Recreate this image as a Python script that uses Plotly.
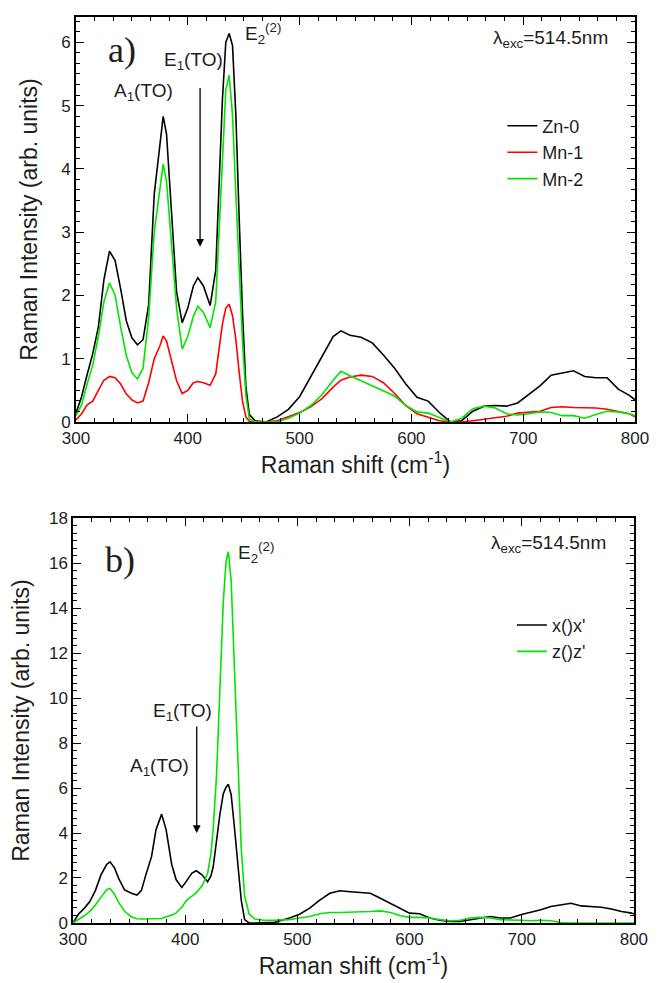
import plotly.graph_objects as go

# ---------------- data: panel a) ----------------
x_top = [300, 305, 310, 315, 320, 325, 330, 335, 340, 345, 350, 355, 360, 365, 370, 375,
         378, 381, 385, 390, 395, 400, 405, 409, 414, 420,
         425, 428, 431, 434, 437, 440, 443, 446, 449, 452, 455, 460,
         470, 480, 490, 500, 510, 520, 530,
         537, 545, 555, 565, 575, 585, 595, 605, 615, 625, 635, 645, 655, 665, 675, 685,
         695, 705, 715, 725, 735, 745, 755, 765, 775, 785, 795, 800]

zn0_top = [0.14, 0.40, 0.75, 1.08, 1.50, 2.25, 2.70, 2.55, 2.10, 1.60, 1.33, 1.22, 1.30, 1.85, 3.60, 4.40,
           4.83, 4.55, 3.50, 2.05, 1.57, 1.80, 2.15, 2.28, 2.15, 1.84,
           2.40, 3.80, 5.10, 6.00, 6.14, 5.95, 4.85, 3.20, 1.70, 0.55, 0.12, 0.02,
           0.0, 0.08, 0.20, 0.40, 0.72, 1.05, 1.35,
           1.44, 1.37, 1.34, 1.25, 1.06, 0.85, 0.60, 0.39, 0.33, 0.15, 0.0, 0.02, 0.17, 0.25, 0.26, 0.25,
           0.30, 0.44, 0.57, 0.74, 0.78, 0.81, 0.72, 0.70, 0.70, 0.52, 0.42, 0.35]

mn1_top = [0.03, 0.13, 0.27, 0.33, 0.50, 0.66, 0.72, 0.70, 0.60, 0.44, 0.35, 0.30, 0.33, 0.62, 1.00, 1.20,
           1.36, 1.28, 1.00, 0.65, 0.45, 0.50, 0.62, 0.64, 0.62, 0.58,
           0.76, 1.15, 1.55, 1.80, 1.86, 1.68, 1.30, 0.78, 0.32, 0.08, 0.01, 0.0,
           0.0, 0.02, 0.08, 0.15, 0.24, 0.37, 0.55,
           0.66, 0.71, 0.74, 0.72, 0.62, 0.45, 0.26, 0.13, 0.08, 0.02, 0.0, 0.0, 0.02, 0.04, 0.06, 0.09,
           0.14, 0.16, 0.17, 0.23, 0.24, 0.23, 0.23, 0.22, 0.20, 0.16, 0.13, 0.08]

mn2_top = [0.10, 0.27, 0.60, 0.90, 1.35, 1.90, 2.20, 2.00, 1.50, 1.05, 0.78, 0.68, 0.85, 1.65, 3.00, 3.70,
           4.08, 3.80, 2.90, 1.80, 1.15, 1.35, 1.67, 1.83, 1.73, 1.49,
           1.90, 3.05, 4.35, 5.25, 5.48, 4.85, 3.60, 2.30, 1.25, 0.42, 0.05, 0.0,
           0.0, 0.0, 0.06, 0.14, 0.26, 0.43, 0.66,
           0.80, 0.73, 0.65, 0.56, 0.48, 0.41, 0.26, 0.16, 0.14, 0.07, 0.0, 0.06, 0.21, 0.25, 0.22, 0.13,
           0.11, 0.13, 0.16, 0.15, 0.10, 0.10, 0.06, 0.12, 0.17, 0.16, 0.13, 0.10]

# ---------------- data: panel b) ----------------
x_bot = [300, 305, 310, 315, 320, 325, 330,
         333, 337, 341, 346, 352, 357, 361, 365, 370, 374,
         379, 383, 388, 392, 397, 401, 406, 410, 415, 420,
         423, 425, 428, 431, 434, 436.5, 438.5, 441, 444, 447,
         450, 453, 457, 462, 470, 480,
         493, 502, 511, 520, 529, 538, 547, 556, 565, 574,
         583, 592, 600, 609, 618, 627, 636, 645, 654, 663,
         672, 681, 690, 699, 708, 717, 726, 735, 744, 753,
         762, 771, 780, 789, 798, 800]

xx_bot = [0.0, 0.40, 0.65, 0.95, 1.45, 2.15, 2.60,
          2.72, 2.45, 1.95, 1.47, 1.32, 1.24, 1.45, 2.15, 2.95, 4.15,
          4.84, 4.15, 2.60, 1.92, 1.58, 1.85, 2.22, 2.32, 2.14, 1.83,
          2.10, 2.50, 3.70, 4.85, 5.75, 6.05, 6.16, 5.70, 4.20, 2.70,
          1.00, 0.15, 0.0, 0.0, 0.0, 0.03,
          0.22, 0.39, 0.66, 1.02, 1.32, 1.43, 1.39, 1.35, 1.32, 1.10,
          0.88, 0.66, 0.44, 0.41, 0.22, 0.12, 0.07, 0.07, 0.15, 0.22,
          0.29, 0.22, 0.22, 0.37, 0.47, 0.59, 0.73, 0.81, 0.88, 0.76,
          0.73, 0.70, 0.62, 0.51, 0.44, 0.40]

zz_bot = [0.0, 0.15, 0.32, 0.52, 0.80, 1.15, 1.48,
          1.54, 1.28, 0.88, 0.52, 0.28, 0.19, 0.18, 0.18, 0.18, 0.18,
          0.20, 0.28, 0.35, 0.45, 0.70, 1.00, 1.18, 1.35, 1.65, 2.20,
          3.10, 4.20, 6.60, 10.5, 14.3, 16.1, 16.5, 15.2, 11.5, 7.2,
          3.3, 1.2, 0.40, 0.18, 0.12, 0.12,
          0.15, 0.22, 0.29, 0.41, 0.47, 0.47, 0.48, 0.47, 0.51, 0.54,
          0.47, 0.32, 0.25, 0.25, 0.22, 0.15, 0.10, 0.12, 0.22, 0.25,
          0.22, 0.15, 0.12, 0.12, 0.10, 0.12, 0.10, 0.02, 0.0, 0.0,
          0.0, 0.0, 0.0, 0.0, 0.0, 0.0]

BLACK = "#000000"
RED = "#ff0000"
GREEN = "#00e600"
TXT = "#1e1e1e"
FONT = "Liberation Sans, Arial, sans-serif"
SERIF = "Liberation Serif, Times New Roman, serif"

fig = go.Figure()
fig.add_trace(go.Scatter(x=x_top, y=zn0_top, name="Zn-0", mode="lines",
                         line=dict(color=BLACK, width=1.6), xaxis="x", yaxis="y", legend="legend"))
fig.add_trace(go.Scatter(x=x_top, y=mn1_top, name="Mn-1", mode="lines",
                         line=dict(color=RED, width=1.6), xaxis="x", yaxis="y", legend="legend"))
fig.add_trace(go.Scatter(x=x_top, y=mn2_top, name="Mn-2", mode="lines",
                         line=dict(color=GREEN, width=1.6), xaxis="x", yaxis="y", legend="legend"))
fig.add_trace(go.Scatter(x=x_bot, y=xx_bot, name="x()x'", mode="lines",
                         line=dict(color=BLACK, width=1.6), xaxis="x2", yaxis="y2", legend="legend2"))
fig.add_trace(go.Scatter(x=x_bot, y=zz_bot, name="z()z'", mode="lines",
                         line=dict(color=GREEN, width=1.6), xaxis="x2", yaxis="y2", legend="legend2"))

common_axis = dict(showline=True, linecolor=BLACK, linewidth=1.5, mirror="allticks",
                   ticks="inside", ticklen=8, tickwidth=1.3, tickcolor=BLACK,
                   showgrid=False, zeroline=False,
                   tickfont=dict(family=FONT, size=17, color=TXT))

xtitle = dict(text="Raman shift (cm<sup>-1</sup>)", font=dict(family=FONT, size=23, color=TXT), standoff=5)
ytitle = dict(text="Raman Intensity (arb. units)", font=dict(family=FONT, size=23, color=TXT), standoff=17)

minor_x = dict(ticks="inside", ticklen=4, tickwidth=1.2, tickcolor=BLACK, tick0=300, dtick=100 / 6)

fig.update_layout(
    width=660, height=975,
    margin=dict(l=65, r=33, t=0, b=60),
    paper_bgcolor="white", plot_bgcolor="white",
    font=dict(family=FONT, color=TXT),
    xaxis=dict(domain=[0.0053, 1.0], anchor="y", range=[300, 800], tick0=300, dtick=100,
               minor=minor_x, title=xtitle, **common_axis),
    yaxis=dict(domain=[0.553, 1.0], anchor="x", range=[0, 6.40], tick0=0, dtick=1,
               minor=dict(ticks="inside", ticklen=4, tickwidth=1.2, tickcolor=BLACK, tick0=0, dtick=1 / 6),
               title=ytitle, **common_axis),
    xaxis2=dict(domain=[0.0, 0.998], anchor="y2", range=[300, 800], tick0=300, dtick=100,
                minor=minor_x, title=xtitle, **common_axis),
    yaxis2=dict(domain=[0.0, 0.447], anchor="x2", range=[0, 18], tick0=0, dtick=2,
                minor=dict(ticks="inside", ticklen=4, tickwidth=1.2, tickcolor=BLACK, tick0=0, dtick=1 / 3),
                title=ytitle, **common_axis),
    legend=dict(x=0.764, y=0.9, xanchor="left", yanchor="top", bgcolor="rgba(0,0,0,0)",
                font=dict(family=FONT, size=18, color=TXT), tracegroupgap=0),
    legend2=dict(x=0.781, y=0.349, xanchor="left", yanchor="top", bgcolor="rgba(0,0,0,0)",
                 font=dict(family=FONT, size=18, color=TXT), tracegroupgap=0),
    showlegend=True,
)

ann_font = dict(family=FONT, size=19, color=TXT)
annotations = [
    # panel a)
    dict(x=341, y=5.88, xref="x", yref="y", text="a)", showarrow=False,
         font=dict(family=SERIF, size=36, color=TXT)),
    dict(x=360, y=5.22, xref="x", yref="y", text="A<sub>1</sub>(TO)", showarrow=False, font=ann_font),
    dict(x=405, y=5.70, xref="x", yref="y", text="E<sub>1</sub>(TO)", showarrow=False, font=ann_font),
    dict(x=449.5, y=6.14, xref="x", yref="y", text="E<sub>2</sub><sup>(2)</sup>", showarrow=False,
         xanchor="left", font=ann_font),
    dict(x=724, y=6.06, xref="x", yref="y", text="λ<sub>exc</sub>=514.5nm", showarrow=False, font=ann_font),
    dict(x=411, y=2.77, ax=411, ay=5.3, xref="x", yref="y", axref="x", ayref="y", text="",
         showarrow=True, arrowhead=2, arrowsize=1.2, arrowwidth=1.3, arrowcolor=BLACK),
    # panel b)
    dict(x=341.7, y=16.13, xref="x2", yref="y2", text="b)", showarrow=False,
         font=dict(family=SERIF, size=36, color=TXT)),
    dict(x=445.5, y=16.45, xref="x2", yref="y2", text="E<sub>2</sub><sup>(2)</sup>", showarrow=False,
         xanchor="left", font=ann_font),
    dict(x=397.5, y=9.38, xref="x2", yref="y2", text="E<sub>1</sub>(TO)", showarrow=False, font=ann_font),
    dict(x=377, y=6.95, xref="x2", yref="y2", text="A<sub>1</sub>(TO)", showarrow=False, font=ann_font),
    dict(x=724.3, y=16.85, xref="x2", yref="y2", text="λ<sub>exc</sub>=514.5nm", showarrow=False, font=ann_font),
    dict(x=410.3, y=4.0, ax=410.3, ay=8.8, xref="x2", yref="y2", axref="x2", ayref="y2", text="",
         showarrow=True, arrowhead=2, arrowsize=1.2, arrowwidth=1.3, arrowcolor=BLACK),
]
fig.update_layout(annotations=annotations)

fig.write_html("out.html")
